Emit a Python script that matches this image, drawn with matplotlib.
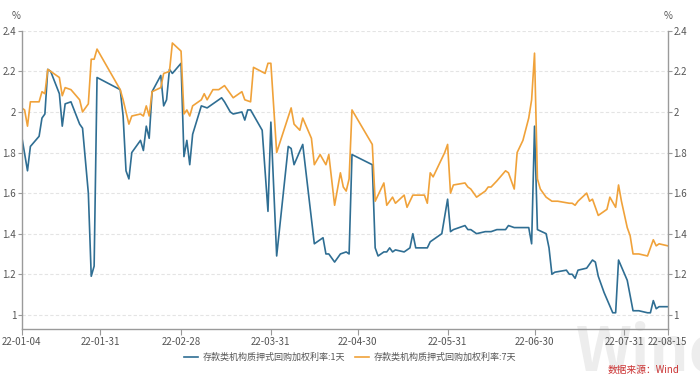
import matplotlib
matplotlib.use("Agg")
import matplotlib.pyplot as plt
import matplotlib.dates as mdates
import pandas as pd

plt.rcParams['font.family'] = ['Noto Sans CJK SC', 'DejaVu Sans']

# DR001 (1天)
dates_1d = ["2022-01-04", "2022-01-06", "2022-01-07", "2022-01-10", "2022-01-11", "2022-01-12",
            "2022-01-13", "2022-01-14", "2022-01-17", "2022-01-18", "2022-01-19", "2022-01-21",
            "2022-01-24", "2022-01-25", "2022-01-27", "2022-01-28", "2022-01-29", "2022-01-30",
            "2022-02-07", "2022-02-08", "2022-02-09", "2022-02-10", "2022-02-11", "2022-02-14",
            "2022-02-15", "2022-02-16", "2022-02-17", "2022-02-18", "2022-02-21", "2022-02-22",
            "2022-02-23", "2022-02-24", "2022-02-25", "2022-02-28", "2022-03-01", "2022-03-02",
            "2022-03-03", "2022-03-04", "2022-03-07", "2022-03-09", "2022-03-11", "2022-03-14",
            "2022-03-15", "2022-03-17", "2022-03-18", "2022-03-21", "2022-03-22", "2022-03-23",
            "2022-03-24", "2022-03-28", "2022-03-30", "2022-03-31", "2022-04-02", "2022-04-06",
            "2022-04-07", "2022-04-08", "2022-04-11", "2022-04-15", "2022-04-18", "2022-04-19",
            "2022-04-20", "2022-04-22", "2022-04-24", "2022-04-26", "2022-04-27", "2022-04-28",
            "2022-05-05", "2022-05-06", "2022-05-07", "2022-05-09", "2022-05-10", "2022-05-11",
            "2022-05-12", "2022-05-13", "2022-05-16", "2022-05-18", "2022-05-19", "2022-05-20",
            "2022-05-24", "2022-05-25", "2022-05-27", "2022-05-29", "2022-05-31", "2022-06-01",
            "2022-06-02", "2022-06-06", "2022-06-07", "2022-06-08", "2022-06-10", "2022-06-13",
            "2022-06-15", "2022-06-17", "2022-06-20", "2022-06-21", "2022-06-23", "2022-06-28",
            "2022-06-29", "2022-06-30", "2022-07-01", "2022-07-04", "2022-07-05", "2022-07-06",
            "2022-07-07", "2022-07-11", "2022-07-12", "2022-07-13", "2022-07-14", "2022-07-15",
            "2022-07-18", "2022-07-20", "2022-07-21", "2022-07-22", "2022-07-24", "2022-07-27",
            "2022-07-28", "2022-07-29", "2022-08-01", "2022-08-03", "2022-08-05", "2022-08-08",
            "2022-08-09", "2022-08-10", "2022-08-11", "2022-08-12", "2022-08-15"]
rate_1d = [1.88, 1.71, 1.83, 1.88, 1.97, 1.99,
           2.21, 2.20, 2.09, 1.93, 2.04, 2.05,
           1.94, 1.92, 1.60, 1.19, 1.24, 2.17,
           2.11, 1.98, 1.71, 1.67, 1.80, 1.86,
           1.81, 1.93, 1.87, 2.10, 2.18, 2.03,
           2.06, 2.21, 2.19, 2.24, 1.78, 1.86,
           1.74, 1.89, 2.03, 2.02, 2.04, 2.07,
           2.05, 2.00, 1.99, 2.00, 1.96, 2.01,
           2.01, 1.91, 1.51, 1.95, 1.29, 1.83,
           1.82, 1.74, 1.84, 1.35, 1.38, 1.30,
           1.30, 1.26, 1.30, 1.31, 1.30, 1.79,
           1.74, 1.33, 1.29, 1.31, 1.31, 1.33,
           1.31, 1.32, 1.31, 1.33, 1.40, 1.33,
           1.33, 1.36, 1.38, 1.40, 1.57, 1.41,
           1.42, 1.44, 1.42, 1.42, 1.40, 1.41,
           1.41, 1.42, 1.42, 1.44, 1.43, 1.43,
           1.35, 1.93, 1.42, 1.40, 1.33, 1.20,
           1.21, 1.22, 1.20, 1.20, 1.18, 1.22,
           1.23, 1.27, 1.26, 1.19, 1.11, 1.01,
           1.01, 1.27, 1.17, 1.02, 1.02, 1.01,
           1.01, 1.07, 1.03, 1.04, 1.04]

# DR007 (7天)
dates_7d = ["2022-01-04", "2022-01-05", "2022-01-06", "2022-01-07", "2022-01-10", "2022-01-11",
            "2022-01-12", "2022-01-13", "2022-01-14", "2022-01-17", "2022-01-18", "2022-01-19",
            "2022-01-21", "2022-01-24", "2022-01-25", "2022-01-27", "2022-01-28", "2022-01-29",
            "2022-01-30", "2022-02-07", "2022-02-08", "2022-02-09", "2022-02-10", "2022-02-11",
            "2022-02-14", "2022-02-15", "2022-02-16", "2022-02-17", "2022-02-18", "2022-02-21",
            "2022-02-22", "2022-02-24", "2022-02-25", "2022-02-28", "2022-03-01", "2022-03-02",
            "2022-03-03", "2022-03-04", "2022-03-07", "2022-03-08", "2022-03-09", "2022-03-11",
            "2022-03-13", "2022-03-15", "2022-03-18", "2022-03-21", "2022-03-22", "2022-03-24",
            "2022-03-25", "2022-03-29", "2022-03-30", "2022-03-31", "2022-04-02", "2022-04-07",
            "2022-04-08", "2022-04-10", "2022-04-11", "2022-04-14", "2022-04-15", "2022-04-17",
            "2022-04-19", "2022-04-20", "2022-04-22", "2022-04-24", "2022-04-25", "2022-04-26",
            "2022-04-27", "2022-04-28", "2022-05-05", "2022-05-06", "2022-05-09", "2022-05-10",
            "2022-05-12", "2022-05-13", "2022-05-16", "2022-05-17", "2022-05-19", "2022-05-23",
            "2022-05-24", "2022-05-25", "2022-05-26", "2022-05-27", "2022-05-30", "2022-05-31",
            "2022-06-01", "2022-06-02", "2022-06-06", "2022-06-07", "2022-06-08", "2022-06-10",
            "2022-06-11", "2022-06-13", "2022-06-14", "2022-06-15", "2022-06-17", "2022-06-20",
            "2022-06-21", "2022-06-23", "2022-06-24", "2022-06-26", "2022-06-28", "2022-06-29",
            "2022-06-30", "2022-07-01", "2022-07-02", "2022-07-04", "2022-07-06", "2022-07-07",
            "2022-07-08", "2022-07-12", "2022-07-13", "2022-07-14", "2022-07-15", "2022-07-18",
            "2022-07-19", "2022-07-20", "2022-07-22", "2022-07-25", "2022-07-26", "2022-07-28",
            "2022-07-29", "2022-07-30", "2022-08-01", "2022-08-02", "2022-08-03", "2022-08-05",
            "2022-08-08", "2022-08-10", "2022-08-11", "2022-08-12", "2022-08-15"]
rate_7d = [2.02, 2.01, 1.93, 2.05, 2.05, 2.10,
           2.09, 2.21, 2.20, 2.17, 2.08, 2.12,
           2.11, 2.06, 2.00, 2.04, 2.26, 2.26,
           2.31, 2.11, 2.06, 2.00, 1.94, 1.98,
           1.99, 1.98, 2.03, 1.98, 2.10, 2.12,
           2.19, 2.20, 2.34, 2.30, 1.99, 2.01,
           1.98, 2.03, 2.06, 2.09, 2.06, 2.11,
           2.11, 2.13, 2.07, 2.10, 2.06, 2.05,
           2.22, 2.19, 2.24, 2.24, 1.80, 2.02,
           1.94, 1.91, 1.97, 1.87, 1.74, 1.79,
           1.74, 1.79, 1.54, 1.70, 1.63, 1.61,
           1.67, 2.01, 1.84, 1.56, 1.65, 1.54,
           1.58, 1.55, 1.59, 1.53, 1.59, 1.59,
           1.55, 1.70, 1.68, 1.71, 1.80, 1.84,
           1.60, 1.64, 1.65, 1.63, 1.62, 1.58,
           1.59, 1.61, 1.63, 1.63, 1.66, 1.71,
           1.70, 1.62, 1.80, 1.86, 1.97, 2.06,
           2.29, 1.67, 1.62, 1.58, 1.56, 1.56,
           1.56, 1.55, 1.55, 1.54, 1.56, 1.60,
           1.56, 1.57, 1.49, 1.52, 1.58, 1.53,
           1.64, 1.56, 1.43, 1.39, 1.30, 1.30,
           1.29, 1.37, 1.34, 1.35, 1.34]

tick_dates = ["2022-01-04", "2022-01-31", "2022-02-28", "2022-03-31", "2022-04-30",
              "2022-05-31", "2022-06-30", "2022-07-31", "2022-08-15"]
y_ticks = [1, 1.2, 1.4, 1.6, 1.8, 2, 2.2, 2.4]

label_1d = "存款类机构质押式回购加权利率:1天"
label_7d = "存款类机构质押式回购加权利率:7天"

c_blue = "#2f6e93"
c_orange = "#f0a23a"
c_axis = "#9a9a9a"
c_text = "#555555"

fig = plt.figure(figsize=(7, 3.76), dpi=100)

# watermark, drawn behind everything
fig.text(0.822, -0.02, "Wind", fontsize=44, fontweight="bold", color="#ededed",
         ha="left", va="bottom", zorder=-5)

ax = fig.add_axes([0.031, 0.125, 0.923, 0.793])
ax.set_facecolor("none")

ax.plot(pd.to_datetime(dates_1d), rate_1d, color=c_blue, lw=1.2, label=label_1d)
ax.plot(pd.to_datetime(dates_7d), rate_7d, color=c_orange, lw=1.2, label=label_7d)

ax.set_xlim(pd.Timestamp(tick_dates[0]), pd.Timestamp(tick_dates[-1]))
ax.set_ylim(0.93, 2.4)
ax.set_yticks(y_ticks)
ax.set_yticklabels(["%g" % v for v in y_ticks])
ax.set_xticks(pd.to_datetime(tick_dates))
ax.xaxis.set_major_formatter(mdates.DateFormatter("%y-%m-%d"))

ax.grid(axis="y", color="#e4e4e4", ls=(0, (3, 2)), lw=0.8)
ax.set_axisbelow(True)

for s in ["left", "right", "bottom"]:
    ax.spines[s].set_color(c_axis)
    ax.spines[s].set_linewidth(1)
ax.spines["top"].set_visible(False)

ax.tick_params(axis="x", colors=c_axis, labelcolor=c_text, labelsize=7, length=4, pad=2)
ax.tick_params(axis="y", colors=c_axis, labelcolor=c_text, labelsize=7, length=3, pad=1,
               left=True, right=True, labelleft=True, labelright=True)

fig.text(0.023, 0.945, "%", fontsize=7, color=c_text, ha="center", va="bottom")
fig.text(0.955, 0.945, "%", fontsize=7, color=c_text, ha="center", va="bottom")

fig.legend(loc="center", bbox_to_anchor=(0.5, 0.05), ncol=2, frameon=False,
           fontsize=6.5, handlelength=1.6, handletextpad=0.5, columnspacing=1.0,
           labelcolor=c_text)

fig.text(0.97, 0.004, "数据来源：Wind", fontsize=7, color="#cc3333", ha="right", va="bottom")

fig.savefig("out.png", dpi=100)
